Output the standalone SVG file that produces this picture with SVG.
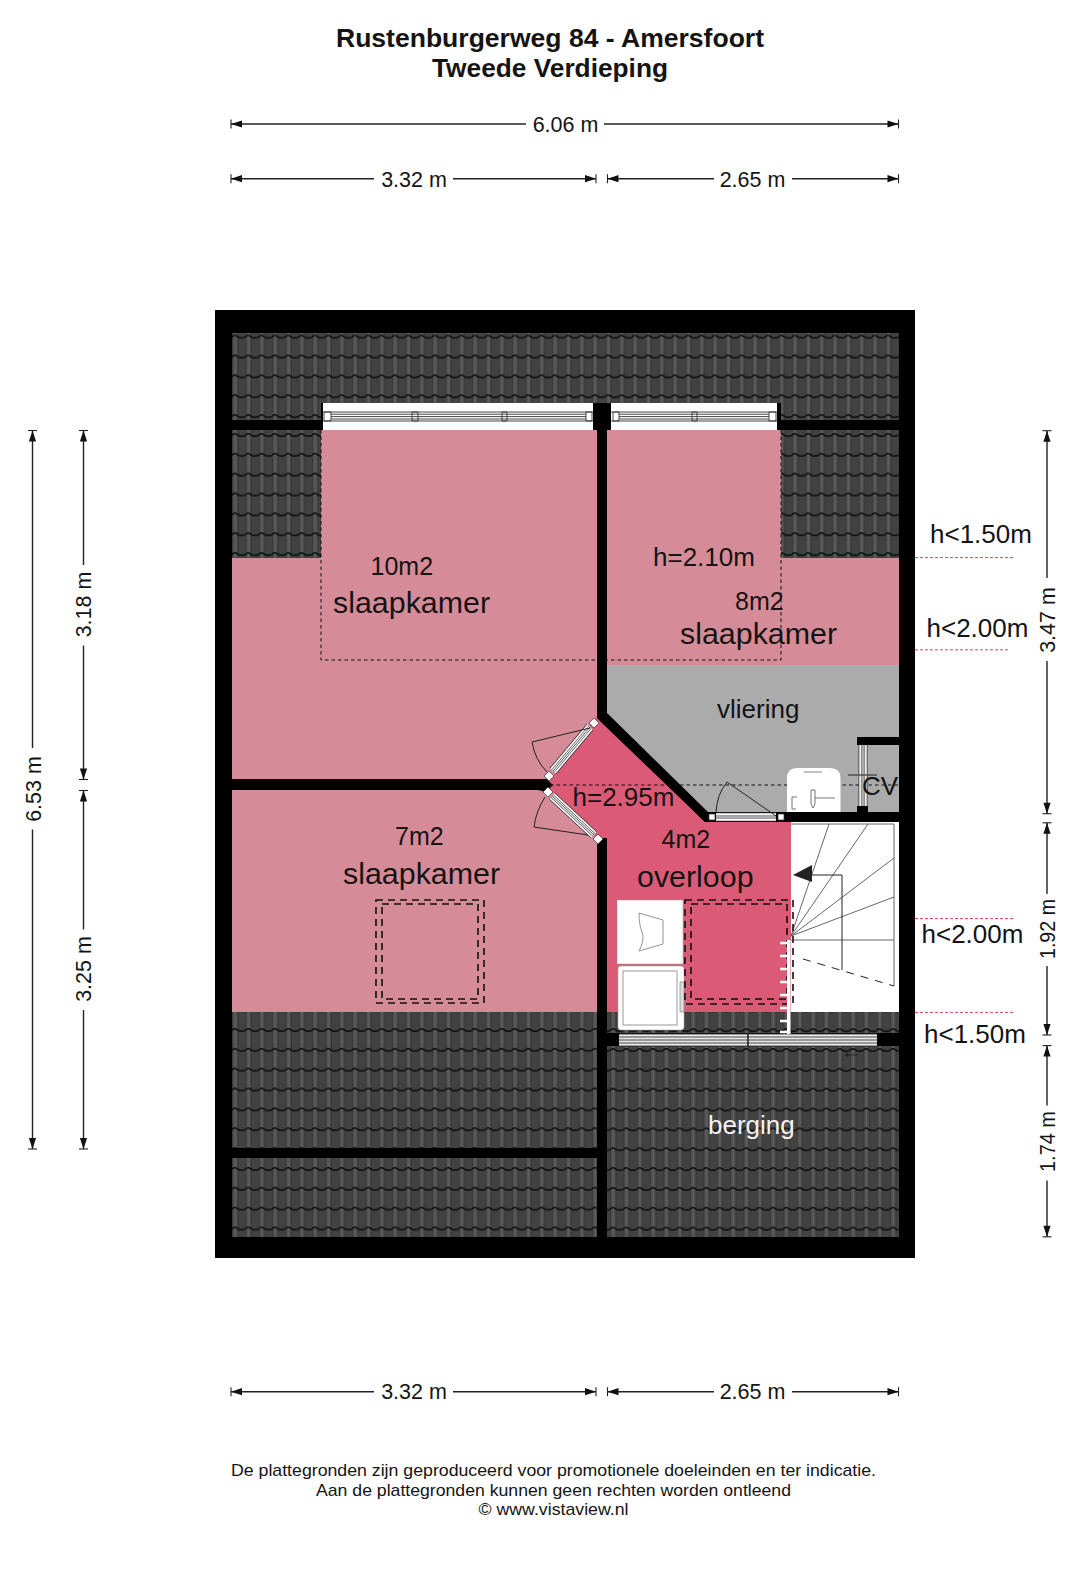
<svg xmlns="http://www.w3.org/2000/svg" width="1080" height="1581" viewBox="0 0 1080 1581">
<style>
text{font-family:"Liberation Sans",Arial,sans-serif;fill:#141414}
.title{font-size:25px;font-weight:bold;text-anchor:middle}
.dim{font-size:21.5px;text-anchor:middle}
.foot{font-size:17px;text-anchor:middle}
.room{font-size:30.4px}
.area{font-size:25px}
.hgt{font-size:26px}
.dl{stroke:#222;stroke-width:1.4;fill:none;marker-end:url(#ah)}
.red{stroke:#e0405a;stroke-width:1;stroke-dasharray:3 2;fill:none}
.fine{stroke:#111;stroke-width:1;stroke-dasharray:3.5 3;fill:none}
.dash{stroke:#111;stroke-width:1.6;stroke-dasharray:7 5;fill:none}
.thin{stroke:#222;stroke-width:1;fill:none}
.st{stroke:#555;stroke-width:.9;fill:none}
.win{stroke:#333;stroke-width:.9;fill:none}
.post{fill:#fff;stroke:#333;stroke-width:.7}
.p1{stroke:#333;stroke-width:9;fill:none}
.p2{stroke:#fff;stroke-width:7.4;fill:none}
.p3{stroke:#444;stroke-width:4.2;fill:none}
.p4{stroke:#fff;stroke-width:2.8;fill:none}
.p5{stroke:#444;stroke-width:.9;fill:none}
</style>
<defs>
<linearGradient id="tg" x1="0" x2="1" y1="0" y2="0">
<stop offset="0" stop-color="#2f2f2f"/><stop offset=".18" stop-color="#4a4a4a"/><stop offset=".5" stop-color="#5e5e5e"/><stop offset=".82" stop-color="#454545"/><stop offset="1" stop-color="#2f2f2f"/>
</linearGradient>
<pattern id="t1" patternUnits="userSpaceOnUse" width="13.33" height="19.85" patternTransform="translate(232 334.7)">
<rect width="13.33" height="19.85" fill="#484848"/>
<rect x="0" y="0" width="6.6" height="19.85" fill="url(#tg)"/>
<rect x="6.6" y="0" width="6.73" height="19.85" fill="#424242"/>
<path d="M0 2.4C1.6 .6 3.6 .4 5.4 1.8S8.6 3.6 10.4 3.2 12 2.6 13.33 2.4" fill="none" stroke="#0c0c0c" stroke-width="1.5"/>
</pattern>
<pattern id="t2" href="#t1" patternTransform="translate(232 433)"/>
<pattern id="t3" href="#t1" patternTransform="translate(232 1028)"/>
<pattern id="t4" href="#t1" patternTransform="translate(610 1048)"/>
<marker id="ah" markerUnits="userSpaceOnUse" markerWidth="14" markerHeight="12" refX="12" refY="6" orient="auto" overflow="visible">
<path d="M1 2.4L12 6L1 9.6Z" fill="#111"/><path d="M12 1.5V10.5" stroke="#222" stroke-width="1.1"/>
</marker>
<path id="panels" d="M553 771L590 727M552 796L594 835M716 817H776M863 745V806"/>
</defs>

<rect width="1080" height="1581" fill="#fff"/>

<g id="building">
<rect x="215" y="310" width="700" height="948" fill="#000"/>
<rect x="232" y="333" width="667" height="87" fill="url(#t1)"/>
<rect x="232" y="430" width="667" height="128" fill="url(#t2)"/>
<rect x="232" y="1012" width="365" height="136" fill="url(#t3)"/>
<rect x="232" y="1158" width="365" height="79" fill="url(#t3)"/>
<rect x="607" y="1012" width="292" height="21" fill="url(#t4)"/>
<rect x="607" y="1046" width="292" height="191" fill="url(#t4)"/>
</g>

<g id="room-slaapkamer-10m2">
<path d="M321 430H597V779H232V558H321Z" fill="#d68c98"/>
</g>
<g id="room-slaapkamer-8m2">
<path d="M607 430H781V558H899V665H607Z" fill="#d68c98"/>
</g>
<g id="room-slaapkamer-7m2">
<rect x="232" y="790" width="365" height="222" fill="#d68c98"/>
<rect class="dash" x="376" y="900" width="108" height="103"/>
<rect class="dash" x="382" y="904" width="96" height="95"/>
</g>
<g id="room-vliering">
<path d="M607 665H899V812H607Z" fill="#ababab"/>
</g>
<g id="room-overloop">
<path d="M597 716L705 822H791V1012H597V838L546 785Z" fill="#db5a76"/>
</g>
<g id="stairs-area">
<rect x="791" y="822" width="108" height="190" fill="#fff"/>
<path class="st" d="M791 824H894V986M791 936L829 824M791 936L868 824M791 936L894 858M791 936L894 897M791 940H894"/>
<path class="thin" d="M812 875H842V970"/>
<path d="M793 875L812 865V882Z" fill="#222"/>
<path d="M803 959L894 986" stroke="#222" stroke-width="1" stroke-dasharray="8 7" fill="none"/>
</g>

<g id="walls">
<path d="M597 430H607V713L708 812H899V822H705L603 724 597 718Z" fill="#000"/>
<rect x="597" y="838" width="10" height="399"/>
<path d="M597 838L607 842V850H597Z"/>
<rect x="232" y="779" width="308" height="11"/>
<path d="M538 779H546L553 785 546 792 538 790Z"/>
<rect x="232" y="1148" width="365" height="10"/>
<rect x="232" y="420" width="91" height="10"/>
<rect x="321" y="403" width="2" height="27"/>
<rect x="593" y="403" width="18" height="27"/>
<rect x="777" y="403" width="4" height="27"/>
<rect x="781" y="420" width="118" height="10"/>
<rect x="857" y="737" width="42" height="8"/>
<rect x="857" y="806" width="11" height="6"/>
<rect x="597" y="1034" width="22" height="12"/>
<rect x="877" y="1034" width="22" height="12"/>
</g>

<g id="dashed-outlines">
<path class="fine" d="M321 430V660H781V430"/>
<path class="fine" d="M550 785H898"/>
</g>

<g id="windows">
<rect x="323" y="403" width="270" height="27" fill="#fff"/>
<rect x="611" y="403" width="166" height="27" fill="#fff"/>
<path class="win" d="M323 412H593M323 421H593M331 414.2H586M331 416.6H586M331 419H586M611 412H777M611 421H777M619 414.2H769M619 416.6H769M619 419H769"/>
<path class="win" d="M324 412H331V421H324ZM412 412H418V421H412ZM502 412H507V421H502ZM586 412H592V421H586ZM613 412H619V421H613ZM692 412H697V421H692ZM769 412H776V421H769Z" fill="#fff"/>
<rect x="619" y="1034" width="258" height="12" fill="#e9e9e9"/>
<path class="win" d="M619 1034H877M619 1037H877M619 1040H877M619 1043H877M619 1046H877"/>
<path d="M748 1033V1047" stroke="#222" stroke-width="1.6"/>
<path d="M845 1055H858M845 1055L848 1053.5V1056.5Z" stroke="#222" stroke-width=".8" fill="#222"/>
</g>

<g id="doors">
<use href="#panels" class="p1"/><use href="#panels" class="p2"/><use href="#panels" class="p3"/><use href="#panels" class="p4"/><use href="#panels" class="p5"/>
<path class="post" d="M594 718L599 723 594 728 589 723ZM549 771L554 776 549 781 544 776ZM548 787L553 792 548 797 543 792ZM598 834L603 839 598 844 593 839Z"/>
<path class="post" d="M709 814H715V820H709ZM778 814H784V820H778Z"/>
<path class="thin" d="M590 728L532 742Q535 760 547 772"/>
<path class="thin" d="M588 835L534 827Q536 811 545 797"/>
<path class="thin" d="M776 816L727 782Q717 794 716 812"/>
</g>

<g id="appliances">
<rect x="617" y="900" width="66" height="64" fill="#fff" stroke="#999" stroke-width=".6"/>
<path d="M639 913L663 920V944L639 951Q645 940 642 932 639 925 639 913Z" fill="none" stroke="#888" stroke-width=".9"/>
<rect x="618" y="966" width="66" height="64" rx="3" fill="#fff" stroke="#aaa" stroke-width=".6"/>
<rect x="623" y="971" width="54" height="54" fill="none" stroke="#aaa" stroke-width="1.2"/>
<rect x="680" y="982" width="4" height="30" fill="#ddd" stroke="#777" stroke-width=".6"/>
</g>

<g id="toilet">
<path d="M787 812V778Q787 768 797 768H830Q840.500 768 840.500 778V812Z" fill="#fff"/>
<path d="M804 772H822" stroke="#999" stroke-width="1.2"/>
<path d="M811 790H815V804L813 808 811 804ZM815 798H835M797 797H792V809H796" fill="none" stroke="#666" stroke-width=".9"/>
<path d="M848 775H877" stroke="#222" stroke-width="1"/>
</g>

<g id="dashed-hatches">
<rect class="dash" x="685" y="900" width="108" height="104"/>
<rect class="dash" x="691" y="904" width="96" height="95"/>
</g>

<g id="rail">
<rect x="787" y="940" width="3.500" height="94" fill="#fff"/>
<path d="M780 943H787M780 956H787M780 969H787M780 982H787M780 995H787M780 1008H787M780 1021H787M780 1032H787" stroke="#fff" stroke-width="2.600"/>
</g>

<g id="room-labels">
<text class="area" x="370.500" y="575">10m2</text>
<text class="room" x="333" y="612.500">slaapkamer</text>
<text class="hgt" x="653" y="565.500">h=2.10m</text>
<text class="area" x="735" y="610">8m2</text>
<text class="room" x="680" y="644">slaapkamer</text>
<text class="hgt" x="717" y="718">vliering</text>
<text class="hgt" x="862" y="795">CV</text>
<text class="hgt" x="572.500" y="805.500">h=2.95m</text>
<text class="area" x="661.500" y="848">4m2</text>
<text class="room" x="637" y="886.500">overloop</text>
<text class="area" x="395" y="845">7m2</text>
<text class="room" x="343" y="884">slaapkamer</text>
<text class="hgt" x="708" y="1134" style="fill:#f2f2f2">berging</text>
</g>

<g id="height-marks">
<path class="red" d="M915 557.600H1015M915 649.800H1009M915 918.600H1015M915 1012.400H1015"/>
<text class="hgt" x="930" y="543">h&lt;1.50m</text>
<text class="hgt" x="926.500" y="637">h&lt;2.00m</text>
<text class="hgt" x="921.500" y="943">h&lt;2.00m</text>
<text class="hgt" x="924" y="1043">h&lt;1.50m</text>
</g>

<g id="connectors">
<path class="dl" d="M526 124H231"/><path class="dl" d="M604 124H898.500"/>
<path class="dl" d="M374 178.700H231"/><path class="dl" d="M453 178.700H596"/>
<path class="dl" d="M714 178.700H607.500"/><path class="dl" d="M792 178.700H898.500"/>
<path class="dl" d="M374 1391.700H231"/><path class="dl" d="M453 1391.700H596"/>
<path class="dl" d="M714 1391.700H607.500"/><path class="dl" d="M792 1391.700H898.500"/>
<path class="dl" d="M32.500 748V430.500"/><path class="dl" d="M32.500 829.500V1149"/>
<path class="dl" d="M83.500 565V430.500"/><path class="dl" d="M83.500 645.500V779.500"/>
<path class="dl" d="M83.500 929.500V790.500"/><path class="dl" d="M83.500 1010V1149"/>
<path class="dl" d="M1047 578V430.700"/><path class="dl" d="M1047 661V813.700"/>
<path class="dl" d="M1047 894V822.800"/><path class="dl" d="M1047 966V1035"/>
<path class="dl" d="M1047 1105.600V1045.600"/><path class="dl" d="M1047 1180.600V1236.800"/>
</g>

<g id="dimension-labels">
<text class="dim" x="565.500" y="131.700">6.06 m</text>
<text class="dim" x="414" y="186.500">3.32 m</text>
<text class="dim" x="752.500" y="186.500">2.65 m</text>
<text class="dim" x="414" y="1399">3.32 m</text>
<text class="dim" x="752.500" y="1399">2.65 m</text>
<text class="dim" transform="translate(40.700 789) rotate(-90)">6.53 m</text>
<text class="dim" transform="translate(90.700 604.500) rotate(-90)">3.18 m</text>
<text class="dim" transform="translate(90.700 969) rotate(-90)">3.25 m</text>
<text class="dim" transform="translate(1055 620) rotate(-90)">3.47 m</text>
<text class="dim" transform="translate(1055 929) rotate(-90)" textLength="60" lengthAdjust="spacingAndGlyphs">1.92 m</text>
<text class="dim" transform="translate(1055 1141.500) rotate(-90)" textLength="61" lengthAdjust="spacingAndGlyphs">1.74 m</text>
</g>

<g id="title">
<text class="title" x="550" y="47" textLength="428" lengthAdjust="spacingAndGlyphs">Rustenburgerweg 84 - Amersfoort</text>
<text class="title" x="550" y="76.500" textLength="236" lengthAdjust="spacingAndGlyphs">Tweede Verdieping</text>
</g>

<g id="footer">
<text class="foot" x="553.500" y="1476" textLength="645" lengthAdjust="spacingAndGlyphs">De plattegronden zijn geproduceerd voor promotionele doeleinden en ter indicatie.</text>
<text class="foot" x="553.500" y="1496" textLength="475" lengthAdjust="spacingAndGlyphs">Aan de plattegronden kunnen geen rechten worden ontleend</text>
<text class="foot" x="553.500" y="1515" textLength="150" lengthAdjust="spacingAndGlyphs">© www.vistaview.nl</text>
</g>
</svg>
